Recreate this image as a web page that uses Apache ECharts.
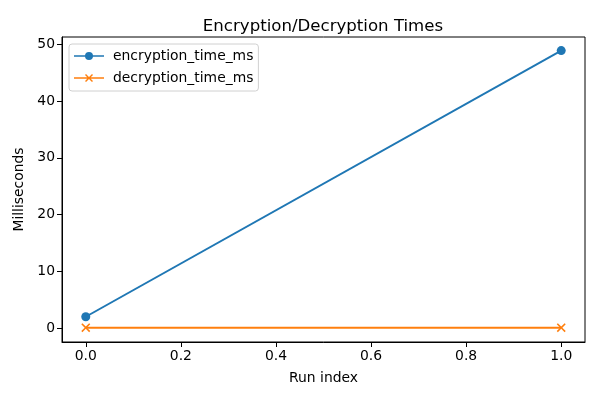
<!DOCTYPE html>
<html><head><meta charset="utf-8">
<script src="https://cdn.jsdelivr.net/npm/echarts@6/dist/echarts.min.js"></script>
<style>html,body{margin:0;padding:0;background:#fff}#c{width:600px;height:400px}</style>
</head><body><div id="c"></div>
<script>
const runIndex = [0, 1];
const encryptionMs = [2.0, 48.9];
const decryptionMs = [0.08, 0.08];
const xTicks = [0, 0.2, 0.4, 0.6, 0.8, 1.0];
const yTicks = [0, 10, 20, 30, 40, 50];
const seriesNames = ['encryption_time_ms', 'decryption_time_ms'];

const FONT = 'DejaVu Sans';
const xPath = 'path://M0,1 L1,0 L4,3 L7,0 L8,1 L5,4 L8,7 L7,8 L4,5 L1,8 L0,7 L3,4 Z';
const legCircle = 'path://M0,3.3 L30,3.3 L30,4.7 L0,4.7 Z M15,0 A4,4 0 1,1 15,8 A4,4 0 1,1 15,0 Z';
const legX = 'path://M0,3.3 L30,3.3 L30,4.7 L0,4.7 Z M11,1 L12,0 L15,3 L18,0 L19,1 L16,4 L19,7 L18,8 L15,5 L12,8 L11,7 L14,4 Z';

const chart = echarts.init(document.getElementById('c'), null, {renderer: 'canvas'});
chart.setOption({
  animation: false,
  textStyle: {fontFamily: FONT},
  title: {text: 'Encryption/Decryption Times', left: 318, top: 13, textAlign: 'center',
    textStyle: {fontFamily: FONT, fontSize: 16.6, fontWeight: 'normal', color: '#000'}},
  grid: {left: 62, right: 15, top: 37, bottom: 58, show: true, borderColor: '#000', borderWidth: 1},
  legend: {
    left: 69, top: 44, orient: 'vertical', itemWidth: 30, itemHeight: 8, itemGap: 8,
    padding: [5, 5, 6, 5], borderColor: '#d0d0d0', borderWidth: 1, borderRadius: 3,
    backgroundColor: '#fff',
    textStyle: {fontFamily: FONT, fontSize: 13.9, color: '#000', padding: [0, 0, 0, 4]},
    data: [{name: seriesNames[0], icon: legCircle}, {name: seriesNames[1], icon: legX}]
  },
  xAxis: {
    type: 'value', min: -0.05, max: 1.05,
    name: 'Run index', nameLocation: 'middle', nameGap: 29,
    nameTextStyle: {fontFamily: FONT, fontSize: 13.9, color: '#000'},
    axisLine: {show: true, onZero: false, lineStyle: {color: '#000'}},
    axisTick: {show: true, length: 5, lineStyle: {color: '#000'}, customValues: xTicks},
    axisLabel: {fontFamily: FONT, fontSize: 13.9, color: '#000', margin: 7, customValues: xTicks,
      formatter: v => v.toFixed(1)},
    splitLine: {show: false}
  },
  yAxis: {
    type: 'value', min: -2.45, max: 51.3,
    name: 'Milliseconds', nameLocation: 'middle', nameGap: 34, nameRotate: 90,
    nameTextStyle: {fontFamily: FONT, fontSize: 13.9, color: '#000'},
    axisLine: {show: true, onZero: false, lineStyle: {color: '#000'}},
    axisTick: {show: true, length: 5, lineStyle: {color: '#000'}, customValues: yTicks},
    axisLabel: {fontFamily: FONT, fontSize: 13.9, color: '#000', margin: 7, customValues: yTicks},
    splitLine: {show: false}
  },
  series: [
    {name: seriesNames[0], type: 'line', data: runIndex.map((x, i) => [x, encryptionMs[i]]),
      color: '#1f77b4', lineStyle: {width: 2}, symbol: 'circle', symbolSize: 9,
      itemStyle: {color: '#1f77b4'}},
    {name: seriesNames[1], type: 'line', data: runIndex.map((x, i) => [x, decryptionMs[i]]),
      color: '#ff7f0e', lineStyle: {width: 2}, symbol: xPath, symbolSize: 9,
      itemStyle: {color: '#ff7f0e'}}
  ]
});
</script></body></html>
